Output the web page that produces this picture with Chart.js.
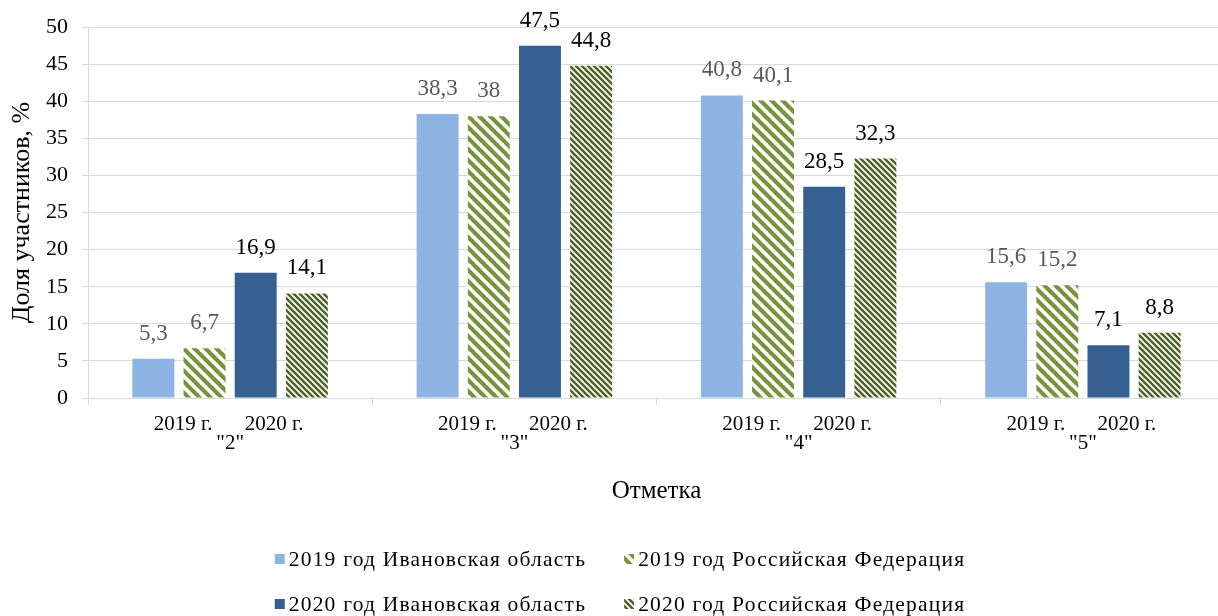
<!DOCTYPE html>
<html><head><meta charset="utf-8">
<script src="https://cdn.jsdelivr.net/npm/chart.js@4"></script>
<style>html,body{margin:0;padding:0;overflow:hidden;background:#fff}#wrap{width:1226px;height:616px}</style>
</head><body><div id="wrap"><canvas id="c" width="1226" height="616"></canvas></div>
<script>
const categories = ['"2"', '"3"', '"4"', '"5"'];
const yearLabels = ['2019 г.', '2020 г.'];
const seriesNames = ['2019 год Ивановская область', '2019 год Российская Федерация', '2020 год Ивановская область', '2020 год Российская Федерация'];
const ivanovo2019 = [5.3, 38.3, 40.8, 15.6];
const russia2019 = [6.7, 38, 40.1, 15.2];
const ivanovo2020 = [16.9, 47.5, 28.5, 7.1];
const russia2020 = [14.1, 44.8, 32.3, 8.8];
const yMin = 0, yMax = 50, yStep = 5;
const axisTitleY = 'Доля участников, %';
const axisTitleX = 'Отметка';

const FONT = "'Liberation Serif', 'Times New Roman', serif";
const canvas = document.getElementById('c');
const ctx = canvas.getContext('2d');

function stripePattern(period, lw, color) {
  const c = document.createElement('canvas');
  c.width = period; c.height = period;
  const g = c.getContext('2d');
  g.fillStyle = '#fff'; g.fillRect(0, 0, period, period);
  g.strokeStyle = color; g.lineWidth = lw;
  g.beginPath();
  for (const o of [-period, 0, period]) { g.moveTo(o - 1, -1); g.lineTo(o + period + 1, period + 1); }
  g.stroke();
  return ctx.createPattern(c, 'repeat');
}

const colors = ['#8EB4E3', stripePattern(11, 4.2, '#77933C'), '#376092', stripePattern(6, 2.6, '#4F6228')];
const labelColors = ['#595959', '#595959', '#000000', '#000000'];
const seriesData = [ivanovo2019, russia2019, ivanovo2020, russia2020];

const dataLabelPlugin = {
  id: 'dataLabels',
  afterDatasetsDraw(chart) {
    const c = chart.ctx;
    c.save();
    c.font = '23px ' + FONT;
    c.textAlign = 'center';
    c.textBaseline = 'middle';
    chart.data.datasets.forEach((ds, i) => {
      const meta = chart.getDatasetMeta(i);
      meta.data.forEach((el, j) => {
        c.fillStyle = labelColors[i];
        c.fillText(String(ds.data[j]).replace('.', ','), el.x, el.y - 25);
      });
    });
    c.restore();
  }
};

const subLabelPlugin = {
  id: 'subLabels',
  afterDraw(chart) {
    const c = chart.ctx, xs = chart.scales.x, area = chart.chartArea;
    const catW = (area.right - area.left) / categories.length;
    c.save();
    c.font = '21px ' + FONT;
    c.fillStyle = '#000';
    c.textAlign = 'center';
    c.textBaseline = 'middle';
    categories.forEach((cat, i) => {
      const cx = xs.getPixelForValue(i);
      c.fillText(yearLabels[0], cx - catW * 0.165, area.bottom + 26);
      c.fillText(yearLabels[1], cx + catW * 0.155, area.bottom + 26);
    });
    c.restore();
  }
};

const legendPlugin = {
  id: 'customLegend',
  afterDraw(chart) {
    const c = chart.ctx;
    c.save();
    c.font = '21.5px ' + FONT;
    try { c.letterSpacing = '1.2px'; } catch (e) {}
    c.textBaseline = 'middle';
    c.textAlign = 'left';
    const box = 10, gapBox = 4, gapCol = 38;
    const w0 = Math.max(c.measureText(seriesNames[0]).width, c.measureText(seriesNames[2]).width);
    const w1 = Math.max(c.measureText(seriesNames[1]).width, c.measureText(seriesNames[3]).width);
    const total = box + gapBox + w0 + gapCol + box + gapBox + w1;
    const x0 = 620 - total / 2;
    const cols = [x0, x0 + box + gapBox + w0 + gapCol];
    const rows = [559, 604];
    seriesNames.forEach((name, i) => {
      const x = cols[i % 2], y = rows[Math.floor(i / 2)];
      c.fillStyle = colors[i];
      c.fillRect(x, y - box / 2, box, box);
      c.fillStyle = '#000';
      c.fillText(name, x + box + gapBox, y + 1);
    });
    c.restore();
  }
};

new Chart(canvas, {
  type: 'bar',
  data: {
    labels: categories,
    datasets: seriesNames.map((name, i) => ({
      label: name,
      data: seriesData[i],
      backgroundColor: colors[i],
      borderWidth: 0,
      categoryPercentage: 0.72,
      barPercentage: 0.82
    }))
  },
  options: {
    responsive: false,
    animation: false,
    layout: { padding: { top: 27, right: 1, bottom: 110, left: 0 } },
    plugins: { legend: { display: false }, tooltip: { enabled: false } },
    scales: {
      x: {
        afterFit(scale) { scale.height = 108; },
        grid: { drawOnChartArea: false, drawTicks: true, tickLength: 7, color: '#D9D9D9', offset: true },
        border: { display: true, color: '#D9D9D9' },
        ticks: { font: { family: FONT, size: 21 }, color: '#000', padding: 26, maxRotation: 0 },
        title: { display: true, text: axisTitleX, font: { family: FONT, size: 25 }, color: '#000', padding: { top: 0, bottom: 0 } }
      },
      y: {
        min: yMin, max: yMax,
        afterFit(scale) { scale.width = 88; },
        grid: { color: '#D9D9D9', tickLength: 6, drawTicks: true },
        border: { display: true, color: '#D9D9D9' },
        ticks: { stepSize: yStep, font: { family: FONT, size: 22 }, color: '#000', padding: 14 },
        title: { display: true, text: axisTitleY, font: { family: FONT, size: 26 }, color: '#000', padding: { top: 7, bottom: 0 } }
      }
    }
  },
  plugins: [dataLabelPlugin, subLabelPlugin, legendPlugin]
});
</script></body></html>
